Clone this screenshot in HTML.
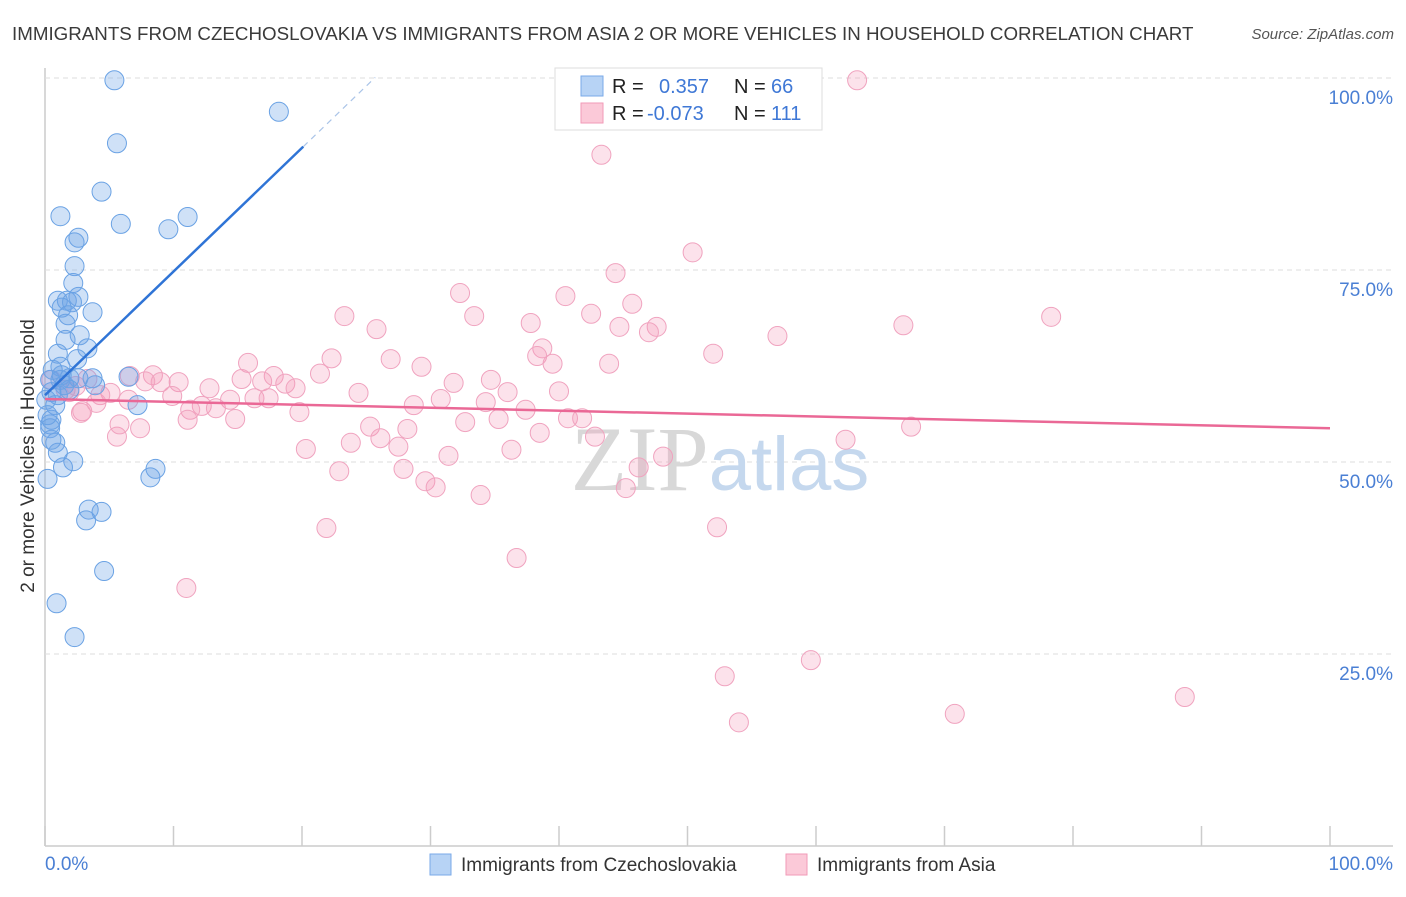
<!DOCTYPE html>
<html><head><meta charset="utf-8"><style>
body{margin:0;background:#fff;font-family:"Liberation Sans",sans-serif;}
svg text{font-family:"Liberation Sans",sans-serif;}
</style></head><body>
<svg id="chart" width="1406" height="892" viewBox="0 0 1406 892" xmlns="http://www.w3.org/2000/svg">
<text x="12" y="40" font-size="18.75" fill="#3a3a3a">IMMIGRANTS FROM CZECHOSLOVAKIA VS IMMIGRANTS FROM ASIA 2 OR MORE VEHICLES IN HOUSEHOLD CORRELATION CHART</text>
<text x="1394" y="39" font-size="15" fill="#555" font-style="italic" text-anchor="end">Source: ZipAtlas.com</text>
<g id="grid"></g>
<text x="720" y="490" font-size="92" text-anchor="middle"><tspan fill="#d8d8d8" font-family="Liberation Serif">ZIP</tspan><tspan fill="#c5d8ee" font-size="76">atlas</tspan></text>
<g id="points"></g>
<g id="lines"></g>
<text transform="translate(34,456) rotate(-90)" font-size="19" fill="#333" text-anchor="middle">2 or more Vehicles in Household</text>
<text x="45" y="870" font-size="19" fill="#4a7fd4">0.0%</text>
<text x="1393" y="870" font-size="19" fill="#4a7fd4" text-anchor="end">100.0%</text>
<g>
<rect x="555" y="68" width="267" height="62" fill="#fff" stroke="#ddd"/>
<rect x="581" y="76" width="22" height="20" fill="#b7d3f5" stroke="#7aaae8"/>
<rect x="581" y="103" width="22" height="20" fill="#fbc9d8" stroke="#f19ab7"/>
<text x="612" y="93" font-size="20" fill="#222">R =</text>
<text x="659" y="93" font-size="20" fill="#3f78d6">0.357</text>
<text x="734" y="93" font-size="20" fill="#222">N =</text>
<text x="771" y="93" font-size="20" fill="#3f78d6">66</text>
<text x="612" y="120" font-size="20" fill="#222">R =</text>
<text x="647" y="120" font-size="20" fill="#3f78d6">-0.073</text>
<text x="734" y="120" font-size="20" fill="#222">N =</text>
<text x="771" y="120" font-size="20" fill="#3f78d6">111</text>
</g>
<g>
<rect x="430" y="854" width="21" height="21" fill="#b7d3f5" stroke="#7aaae8"/>
<text x="461" y="871" font-size="19" fill="#333">Immigrants from Czechoslovakia</text>
</g>
<g>
<rect x="786" y="854" width="21" height="21" fill="#fbc9d8" stroke="#f19ab7"/>
<text x="817" y="871" font-size="19" fill="#333">Immigrants from Asia</text>
</g>
</svg>
<script>
const yTicks=[25,50,75,100];
const yTickLabels=["25.0%","50.0%","75.0%","100.0%"];
const xTicks=[0,10,20,30,40,50,60,70,80,90,100];
const blueX=[5.4,18.2,5.6,4.4,1.2,5.9,11.1,9.6,2.6,2.3,2.3,2.2,1.0,1.7,2.6,2.1,1.3,3.7,1.8,1.6,2.7,1.6,3.3,1.0,2.5,1.2,3.7,1.9,2.6,1.5,0.5,1.0,0.8,7.2,6.5,0.5,0.4,0.4,0.8,1.0,2.2,1.4,8.6,8.2,0.2,3.4,4.4,3.2,4.6,0.9,2.3,0.4,0.6,1.2,0.1,0.2,0.5,1.3,1.9,3.9];
const blueY=[99.7,95.6,91.5,85.2,82.0,81.0,81.9,80.3,79.2,78.6,75.5,73.3,71.0,71.0,71.5,70.8,70.1,69.5,69.1,68.0,66.5,65.9,64.8,64.1,63.4,62.4,60.9,60.9,60.9,60.0,59.1,58.7,57.4,57.4,61.1,55.5,54.9,54.4,52.5,51.2,50.1,49.3,49.1,48.0,47.8,43.8,43.5,42.4,35.8,31.6,27.2,60.7,62.0,60.7,58.1,56.1,52.9,61.3,59.4,60.0];
const pinkX=[53.3,63.2,43.3,50.4,44.4,32.3,40.5,45.7,23.3,33.4,42.5,25.8,37.8,44.7,47.6,47.0,66.8,78.3,57.0,38.7,38.3,52.0,15.8,26.9,22.3,29.3,39.5,43.9,21.4,6.6,8.4,9.0,7.8,10.4,15.3,17.8,18.7,19.5,16.9,12.8,31.8,34.7,24.4,36.0,40.0,30.8,34.3,28.7,37.4,19.8,16.3,14.4,12.2,13.3,11.3,14.8,11.1,9.9,17.4,5.1,4.3,2.9,6.5,1.6,0.5,2.4,4.0,32.7,35.3,40.7,41.8,38.5,28.2,25.3,23.8,26.1,27.5,42.8,20.3,31.4,36.3,48.1,46.2,27.9,22.9,29.6,30.4,45.2,33.9,5.6,5.8,7.4,2.8,67.4,62.3,52.3,21.9,36.7,11.0,59.6,52.9,54.0,70.8,88.7,1.9,3.3];
const pinkY=[99.7,99.7,90.0,77.3,74.6,72.0,71.6,70.6,69.0,69.0,69.3,67.3,68.1,67.6,67.6,66.9,67.8,68.9,66.4,64.8,63.8,64.1,62.9,63.4,63.5,62.4,62.8,62.8,61.5,61.2,61.3,60.4,60.5,60.4,60.8,61.2,60.2,59.6,60.5,59.6,60.3,60.7,59.0,59.1,59.2,58.2,57.8,57.4,56.8,56.5,58.3,58.1,57.3,57.0,56.8,55.6,55.5,58.6,58.3,59.0,58.7,56.6,58.1,59.4,60.7,59.9,57.7,55.2,55.6,55.7,55.7,53.8,54.3,54.6,52.5,53.1,52.0,53.3,51.7,50.8,51.6,50.7,49.3,49.1,48.8,47.5,46.7,46.6,45.7,53.3,54.9,54.4,56.4,54.6,52.9,41.5,41.4,37.5,33.6,24.2,22.1,16.1,17.2,19.4,59.1,60.8];
const blueTrend=[58.7,1.61];   // intercept, slope
const blueSolidEnd=20.1, blueDashEnd=25.7;
const pinkTrend=[58.2,-0.038];
const NS="http://www.w3.org/2000/svg";
const X0=45,X1=1330,Y0=846,Y100=78;
function sx(v){return X0+(X1-X0)*v/100;}
function sy(v){return Y0-(Y0-Y100)*v/100;}
function mk(tag,attrs,parent){const e=document.createElementNS(NS,tag);for(const k in attrs)e.setAttribute(k,attrs[k]);parent.appendChild(e);return e;}
const grid=document.getElementById('grid');
let ax=mk('line',{x1:X0,y1:68,x2:X0,y2:Y0,stroke:'#ccc','stroke-width':1.5},grid);


let bx=mk('line',{x1:X0,y1:Y0,x2:1393,y2:Y0,stroke:'#ccc','stroke-width':1.5},grid);


yTicks.forEach((t,i)=>{
  const g=mk('line',{x1:X0,y1:sy(t),x2:1393,y2:sy(t),stroke:'#ddd','stroke-dasharray':'5,4'},grid);
  
  
  const l=mk('text',{x:1393,y:sy(t)+26,'font-size':19,fill:'#4a7fd4','text-anchor':'end'},grid);
  l.textContent=yTickLabels[i];
  
  
});
xTicks.forEach(t=>{
  const k=mk('line',{x1:sx(t),y1:Y0-20,x2:sx(t),y2:Y0,stroke:'#ccc','stroke-width':1.5},grid);
  
  
});
const pts=document.getElementById('points');
pinkX.forEach((x,i)=>{
  const c=mk('circle',{cx:sx(x),cy:sy(pinkY[i]),r:9.5,fill:'rgba(243,150,182,0.28)',stroke:'#f0a3bf','stroke-width':1},pts);
  
  
});
blueX.forEach((x,i)=>{
  const c=mk('circle',{cx:sx(x),cy:sy(blueY[i]),r:9.5,fill:'rgba(110,165,232,0.33)',stroke:'#6aa2e4','stroke-width':1},pts);
  
  
});
const lines=document.getElementById('lines');
const bf=x=>blueTrend[0]+blueTrend[1]*x, pf=x=>pinkTrend[0]+pinkTrend[1]*x;
let l1=mk('line',{x1:sx(0),y1:sy(bf(0)),x2:sx(blueSolidEnd),y2:sy(bf(blueSolidEnd)),stroke:'#2f74d6','stroke-width':2.5},lines);


let l2=mk('line',{x1:sx(blueSolidEnd),y1:sy(bf(blueSolidEnd)),x2:sx(blueDashEnd),y2:sy(bf(blueDashEnd)),stroke:'#aac4e8','stroke-width':1.2,'stroke-dasharray':'6,5'},lines);


let l3=mk('line',{x1:sx(0),y1:sy(pf(0)),x2:sx(100),y2:sy(pf(100)),stroke:'#ea6896','stroke-width':2.5},lines);


</script>
</body></html>
